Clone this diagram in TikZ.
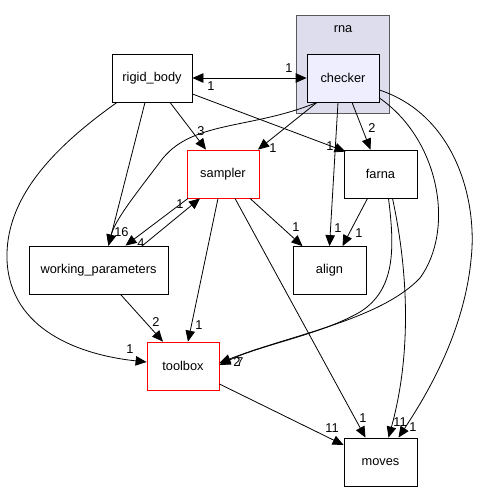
\documentclass[tikz,border=0pt]{standalone}
\usepackage{fontspec}
\setmainfont{Liberation Sans}
\usetikzlibrary{arrows.meta}
\definecolor{clusterfill}{HTML}{DDDDEE}
\definecolor{nodefill}{HTML}{EEEEFF}
\begin{document}
\begin{tikzpicture}[x=1pt,y=-1pt,
  >={Triangle[length=11pt,width=9.5pt]},
  box/.style={draw, line width=0.8pt, minimum height=48pt, inner sep=0pt,
    font=\fontsize{12.8}{15}\selectfont},
  redbox/.style={box, draw=red},
  cluster/.style={draw=black!65, fill=clusterfill, line width=0.8pt,
    minimum width=93pt, minimum height=98pt, inner sep=0pt},
  dep/.style={line width=0.8pt, ->},
  lab/.style={inner sep=0pt, font=\fontsize{12.8}{15}\selectfont}]
  \useasboundingbox (0,0) rectangle (479,492);
  % cluster
  \node[cluster] (rna) at (342.5,64) {};
  \node[lab] (rnatitle) at (343,29) {rna};
  % directories
  \node[box, minimum width=80pt] (rigid) at (152,78) {rigid\_body};
  \node[box, fill=nodefill, minimum width=72pt] (checker) at (343,78) {checker};
  \node[redbox, minimum width=72pt] (sampler) at (223,174) {sampler};
  \node[box, minimum width=73pt] (farna) at (380.5,174) {farna};
  \node[box, minimum width=139pt] (params) at (98.5,270) {working\_parameters};
  \node[box, minimum width=73pt] (align) at (329.5,270.5) {align};
  \node[redbox, minimum width=72pt] (toolbox) at (183,366) {toolbox};
  \node[box, minimum width=73pt] (moves) at (380.5,462) {moves};
  % dependencies
  \draw[dep, <->] (rigid.east) -- (checker.west);
  \draw[dep] ([xshift=18pt]rigid.south) -- ([xshift=-17pt]sampler.north);
  \draw[dep] ([yshift=-16pt]rigid.east) -- ([xshift=2pt,yshift=-2pt]farna.north west);
  \draw[dep] ([xshift=-7pt]rigid.south) -- ([xshift=10pt]params.north);
  \draw[dep] ([xshift=-35pt]rigid.south) .. controls (50,150) and (5,200) .. (7,260)
    .. controls (10,330) and (80,355) .. ([yshift=4pt]toolbox.west);
  \draw[dep] ([xshift=-26pt]checker.south) -- ([xshift=35pt]sampler.north);
  \draw[dep] ([xshift=-26pt]checker.south) .. controls (250,130) and (190,120) .. (160,162)
    .. controls (135,195) and (115,220) .. ([xshift=10pt]params.north);
  \draw[dep] ([xshift=9pt]checker.south) -- ([xshift=-10pt]farna.north);
  \draw[dep] ([xshift=-5pt]checker.south) -- (align.north);
  \draw[dep] ([yshift=-20pt]checker.east) .. controls (440,140) and (455,230) .. (420,278)
    .. controls (380,320) and (290,335) .. ([yshift=3pt]toolbox.east);
  \draw[dep] ([yshift=-12pt]checker.east) .. controls (455,115) and (478,200) .. (471,260)
    .. controls (464,330) and (430,390) .. ([xshift=18pt]moves.north);
  \draw[dep] ([xshift=44pt]params.north) -- ([xshift=-23pt]sampler.south);
  \draw[dep] ([xshift=-35pt]sampler.south) -- ([xshift=27pt]params.north);
  \draw[dep] ([xshift=27pt]sampler.south) -- ([xshift=-27pt]align.north);
  \draw[dep] ([xshift=-5pt]sampler.south) -- ([xshift=5pt]toolbox.north);
  \draw[dep] ([xshift=12pt]sampler.south) -- ([xshift=-15pt]moves.north);
  \draw[dep] ([xshift=-13pt]farna.south) -- ([xshift=13pt]align.north);
  \draw[dep] ([xshift=8pt]farna.south) .. controls (395,250) and (395,290) .. (360,312)
    .. controls (320,335) and (260,345) .. ([yshift=1pt]toolbox.east);
  \draw[dep] ([xshift=12pt]farna.south) .. controls (410,280) and (410,360) .. ([xshift=8pt]moves.north);
  \draw[dep] ([xshift=22pt]params.south) -- ([xshift=-20pt]toolbox.north);
  \draw[dep] ([yshift=-18pt]toolbox.east) -- ([yshift=17pt]moves.west);
  % counts
  \node[lab] (c1) at (289,68) {1};
  \node[lab] (c2) at (211,86) {1};
  \node[lab] (c3) at (201,131) {3};
  \node[lab] (c4) at (330,146) {1};
  \node[lab] (c5) at (118,232) {1};
  \node[lab] (c6) at (125,232) {6};
  \node[lab] (c7) at (141,243) {4};
  \node[lab] (c8) at (180,204) {1};
  \node[lab] (c9) at (273,148) {1};
  \node[lab] (c10) at (372,128) {2};
  \node[lab] (c11) at (338,228) {1};
  \node[lab] (c12) at (296,227) {1};
  \node[lab] (c13) at (359,233) {1};
  \node[lab] (c14) at (199,325) {1};
  \node[lab] (c15) at (156,322) {2};
  \node[lab] (c16) at (130,349) {1};
  \node[lab] (c17) at (237,362) {2};
  \node[lab] (c18) at (240,362) {7};
  \node[lab] (c19) at (363,418) {1};
  \node[lab] (c20) at (400,422) {11};
  \node[lab] (c21) at (413,427) {1};
  \node[lab] (c22) at (332,428) {11};
\end{tikzpicture}
\end{document}
